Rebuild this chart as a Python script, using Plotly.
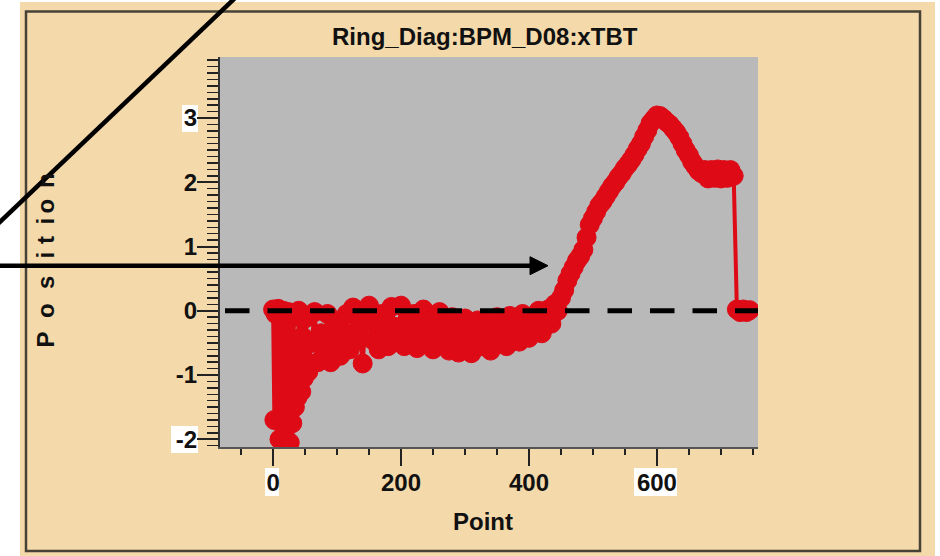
import plotly.graph_objects as go

# ---------------- data ----------------
# first 50 turns sampled every 2 points, the rest every 5 points
point_a = list(range(0, 50, 2))
position_a = [0.02, -1.7, -0.05, -2.6, 0.03, -2.0, -0.1, -2.5, 0.0, -1.9,
              -0.08, -2.4, -0.02, -2.05, -0.12, -1.75, -0.05, -1.5, -0.6, -1.35,
              0.0, -0.9, -1.26, -0.4, -1.05]

position_b = [
    -0.12, -0.95, -0.5, -0.02, -0.8, -0.35, -0.65, -0.05, -0.8, -0.45,   # 50-95
    -0.2, -0.7, -0.35, -0.05, -0.6, 0.05, -0.45, -0.25, -0.82, -0.1,     # 100-145
    0.08, -0.45, -0.2, -0.6, -0.05, -0.35, -0.55, 0.06, -0.25, -0.45,    # 150-195
    0.08, -0.55, -0.2, -0.38, -0.05, -0.58, -0.25, 0.02, -0.45, -0.15,   # 200-245
    -0.6, -0.3, -0.02, -0.5, -0.2, -0.62, -0.1, -0.4, -0.65, -0.25,      # 250-295
    -0.12, -0.5, -0.66, -0.3, -0.15, -0.55, -0.4, -0.13, -0.62, -0.3,    # 300-345
    -0.1, -0.5, -0.25, -0.55, -0.08, -0.38, -0.2, -0.48, -0.05, -0.3,    # 350-395
    -0.42, -0.12, -0.3, 0.0, -0.35, -0.1, 0.02, -0.2, 0.1, 0.0,          # 400-445
    0.2, 0.32, 0.47, 0.58, 0.68, 0.78, 0.85, 0.95, 1.14, 1.34,           # 450-495
    1.44, 1.54, 1.64, 1.7, 1.78, 1.86, 1.94, 2.0, 2.08, 2.14,            # 500-545
    2.22, 2.28, 2.35, 2.43, 2.52, 2.6, 2.71, 2.81, 2.92, 2.98,           # 550-595
    3.04, 3.03, 2.99, 2.94, 2.9, 2.84, 2.78, 2.7, 2.6, 2.5,              # 600-645
    2.42, 2.32, 2.25, 2.18, 2.14, 2.19, 2.06, 2.19, 2.07, 2.2,           # 650-695
    2.06, 2.19, 2.07, 2.19, 2.1, 0.02, -0.02, 0.02, -0.02, 0.01,         # 700-745
]
point_b = list(range(50, 50 + 5 * len(position_b), 5))

points = point_a + point_b
positions = position_a + position_b

x_tick_vals = [0, 200, 400, 600]
x_tick_text = ["0", "200", "400", "600"]
y_tick_vals = [-2, -1, 0, 1, 2, 3]
y_tick_text = ["-2", "-1", "0", "1", "2", "3"]

title_text = "Ring_Diag:BPM_D08:xTBT"
x_title = "Point"
y_title_letters = list("Position")
# vertical pixel centre of each letter of the spaced-out y title (layout only)
y_title_letter_px = [339.5, 311, 283, 255.5, 240, 221.5, 206.5, 181]

# ---------------- style ----------------
W, H = 940, 556
L, R, T, B = 220, 758, 57, 447
BEIGE = "#F4D9AA"
PLOT_BG = "#B9B9B9"
RED = "#DE0A16"
FONT = "Liberation Sans, Arial, sans-serif"


def px_x(px):
    return (px - L) / (R - L)


def px_y(py):
    return (B - py) / (B - T)


fig = go.Figure()
fig.add_trace(go.Scatter(
    x=points, y=positions, mode="lines+markers",
    line=dict(color=RED, width=4),
    marker=dict(symbol="circle", size=19, color=RED,
                line=dict(width=1, color=RED)),
    showlegend=False, hoverinfo="skip",
))

shapes = []
# frame border
shapes.append(dict(type="rect", xref="paper", yref="paper", layer="below",
                   x0=px_x(26), x1=px_x(920), y0=px_y(11.5), y1=px_y(551),
                   line=dict(color="#474236", width=2.5), fillcolor="rgba(0,0,0,0)"))
# white highlight boxes behind some tick labels
for (a, b, c, d) in [(182, 198, 105, 132), (171, 198, 426, 453),
                     (265, 279, 468, 496), (634, 677, 468, 496)]:
    shapes.append(dict(type="rect", xref="paper", yref="paper", layer="below",
                       x0=px_x(a), x1=px_x(b), y0=px_y(d), y1=px_y(c),
                       line=dict(width=0), fillcolor="white"))
# dashed zero reference line
shapes.append(dict(type="line", xref="paper", yref="y", layer="above",
                   x0=px_x(225), x1=1.0, y0=0, y1=0,
                   line=dict(color="black", width=5, dash="24.5px,18px")))
# white outer margins
for (a, b, c, d) in [(-10, 20, -10, 566), (-10, 950, -10, 2), (935, 950, -10, 566)]:
    shapes.append(dict(type="rect", xref="paper", yref="paper", layer="above",
                       x0=px_x(a), x1=px_x(b), y0=px_y(d), y1=px_y(c),
                       line=dict(width=0), fillcolor="white"))
# black annotation lines
shapes.append(dict(type="line", xref="paper", yref="paper", layer="above",
                   x0=px_x(-10), y0=px_y(231.5), x1=px_x(243.5), y1=px_y(-10),
                   line=dict(color="black", width=4.5)))
shapes.append(dict(type="line", xref="paper", yref="paper", layer="above",
                   x0=px_x(-10), y0=px_y(265.7), x1=px_x(532), y1=px_y(265.7),
                   line=dict(color="black", width=4.5)))
shapes.append(dict(type="path", xref="paper", yref="paper", layer="above",
                   path="M {} {} L {} {} L {} {} Z".format(
                       px_x(530), px_y(256.7), px_x(548), px_y(265.7),
                       px_x(530), px_y(274.7)),
                   line=dict(color="black", width=1), fillcolor="black"))

annotations = [
    dict(text=title_text, xref="paper", yref="paper", x=px_x(485), y=px_y(37),
         xanchor="center", yanchor="middle", showarrow=False,
         font=dict(family=FONT, size=24, color="#111", weight="bold")),
    dict(text=x_title, xref="paper", yref="paper", x=px_x(483), y=px_y(521),
         xanchor="center", yanchor="middle", showarrow=False,
         font=dict(family=FONT, size=24, color="#111", weight="bold")),
]
for letter, ypx in zip(y_title_letters, y_title_letter_px):
    annotations.append(dict(
        text=letter, xref="paper", yref="paper", x=px_x(45), y=px_y(ypx),
        xanchor="center", yanchor="middle", showarrow=False, textangle=-90,
        font=dict(family=FONT, size=24, color="#111", weight="bold")))

tick_font = dict(family=FONT, size=24, color="#111", weight="bold")

fig.update_layout(
    width=W, height=H, autosize=False,
    margin=dict(l=L, r=W - R, t=T, b=H - B, pad=0),
    paper_bgcolor=BEIGE, plot_bgcolor=PLOT_BG,
    shapes=shapes, annotations=annotations,
    xaxis=dict(range=[-83, 758], tickmode="array", tickvals=x_tick_vals,
               ticktext=x_tick_text, ticks="outside", ticklen=17, tickwidth=2,
               tickcolor="#222", showline=True, linecolor="#555", linewidth=2,
               showgrid=False, zeroline=False, tickfont=tick_font,
               ticklabelstandoff=-4,
               minor=dict(dtick=50, tick0=0, ticks="outside", ticklen=6,
                          tickwidth=2, tickcolor="#222", showgrid=False)),
    yaxis=dict(range=[-2.12, 3.95], tickmode="array", tickvals=y_tick_vals,
               ticktext=y_tick_text, ticks="outside", ticklen=21, tickwidth=2,
               tickcolor="#222", showline=True, linecolor="#333", linewidth=2,
               showgrid=False, zeroline=False, tickfont=tick_font,
               ticklabelstandoff=-5,
               minor=dict(dtick=0.1, tick0=0, ticks="outside", ticklen=11,
                          tickwidth=1.5, tickcolor="#222", showgrid=False)),
)

fig.write_html("out.html",
               config={"displayModeBar": False, "staticPlot": True},
               post_script="document.body.style.margin='0px';"
                           "document.body.style.padding='0px';")
